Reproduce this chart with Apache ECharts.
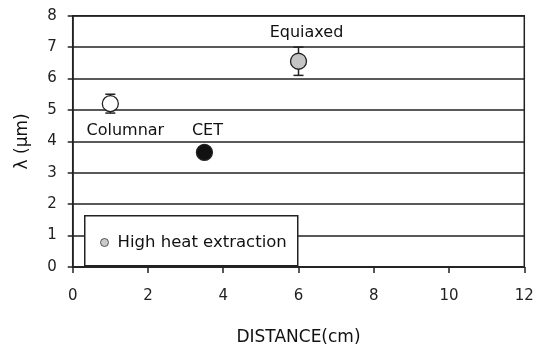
<!DOCTYPE html>
<html><head><meta charset="utf-8">
<script src="https://cdn.jsdelivr.net/npm/echarts@6/dist/echarts.min.js"></script>
<style>html,body{margin:0;padding:0;background:#fff}#c{width:539px;height:351px}</style>
</head><body><div id="c"></div>
<script>
const pointNames = ['Columnar', 'CET', 'Equiaxed'];
const distance = [1, 3.5, 6];
const lambda = [5.2, 3.65, 6.55];
const errors = [0.3, 0.15, 0.45];
const fills = ['#ffffff', '#111111', '#c4c4c4'];
const xTicks = [0, 2, 4, 6, 8, 10, 12];
const yTicks = [0, 1, 2, 3, 4, 5, 6, 7, 8];
const legendName = 'High heat extraction';

const labelCfg = [
  {position: 'bottom', distance: 11, offset: [15, 0]},
  {position: 'top', distance: 5, offset: [3, 0]},
  {position: 'top', distance: 12, offset: [8, 0]}
];
const font = 'DejaVu Sans, sans-serif';

const chart = echarts.init(document.getElementById('c'), null, {renderer: 'canvas'});
const scatterData = distance.map((x, i) => ({
  value: [x, lambda[i]],
  name: pointNames[i],
  itemStyle: {color: fills[i], borderColor: '#222', borderWidth: 1.3, opacity: 1},
  label: Object.assign({show: true, formatter: pointNames[i], color: '#111', fontSize: 16, fontFamily: font}, labelCfg[i])
}));
const errData = distance.map((x, i) => [x, lambda[i] - errors[i], lambda[i] + errors[i]]);

chart.setOption({
  animation: false,
  grid: {left: 72.7, right: 14.7, top: 15.7, bottom: 79.3, show: true, borderColor: '#222', borderWidth: 1.5, backgroundColor: 'transparent'},
  xAxis: {
    type: 'value', min: xTicks[0], max: xTicks[xTicks.length - 1], interval: 2,
    name: 'DISTANCE(cm)', nameLocation: 'middle', nameGap: 62,
    nameTextStyle: {fontSize: 17, color: '#111', fontFamily: font},
    axisLine: {show: true, lineStyle: {color: '#222', width: 1.5}},
    axisTick: {show: true, length: 6, inside: false, lineStyle: {color: '#222', width: 1.5}},
    axisLabel: {fontSize: 15, color: '#222', margin: 22, fontFamily: font},
    splitLine: {show: false}
  },
  yAxis: {
    type: 'value', min: yTicks[0], max: yTicks[yTicks.length - 1], interval: 1,
    name: 'λ (μm)', nameLocation: 'middle', nameGap: 42, nameRotate: 90,
    nameTextStyle: {fontSize: 17, color: '#111', fontFamily: font},
    axisLine: {show: true, lineStyle: {color: '#222', width: 1.5}},
    axisTick: {show: true, length: 5, inside: false, lineStyle: {color: '#222', width: 1.5}},
    axisLabel: {fontSize: 15, color: '#222', margin: 16, fontFamily: font},
    splitLine: {show: true, lineStyle: {color: '#222', width: 1.5}}
  },
  legend: {
    left: 95, top: 229, z: 20,
    data: [{name: legendName, icon: 'circle', itemStyle: {color: '#bbbbbb', borderColor: '#333', borderWidth: 1}}],
    itemWidth: 8, itemHeight: 8, itemGap: 6,
    textStyle: {fontSize: 16.5, color: '#111', fontFamily: font, padding: [0, 0, 0, 4]}
  },
  graphic: [{
    type: 'rect', z: 10, left: 84, top: 215,
    shape: {width: 213, height: 50},
    style: {fill: '#fff', stroke: '#222', lineWidth: 1.5}
  }],
  series: [
    {
      type: 'custom', name: 'err', z: 3,
      data: errData,
      renderItem: function (params, api) {
        const x = api.value(0);
        const lo = api.coord([x, api.value(1)]);
        const hi = api.coord([x, api.value(2)]);
        const hw = 5;
        const st = {stroke: '#222', lineWidth: 1.5};
        return {type: 'group', children: [
          {type: 'line', shape: {x1: lo[0], y1: lo[1], x2: hi[0], y2: hi[1]}, style: st},
          {type: 'line', shape: {x1: lo[0] - hw, y1: lo[1], x2: lo[0] + hw, y2: lo[1]}, style: st},
          {type: 'line', shape: {x1: hi[0] - hw, y1: hi[1], x2: hi[0] + hw, y2: hi[1]}, style: st}
        ]};
      }
    },
    {
      type: 'scatter', name: legendName, z: 4,
      symbol: 'circle', symbolSize: 16,
      data: scatterData
    }
  ]
});
</script></body></html>
